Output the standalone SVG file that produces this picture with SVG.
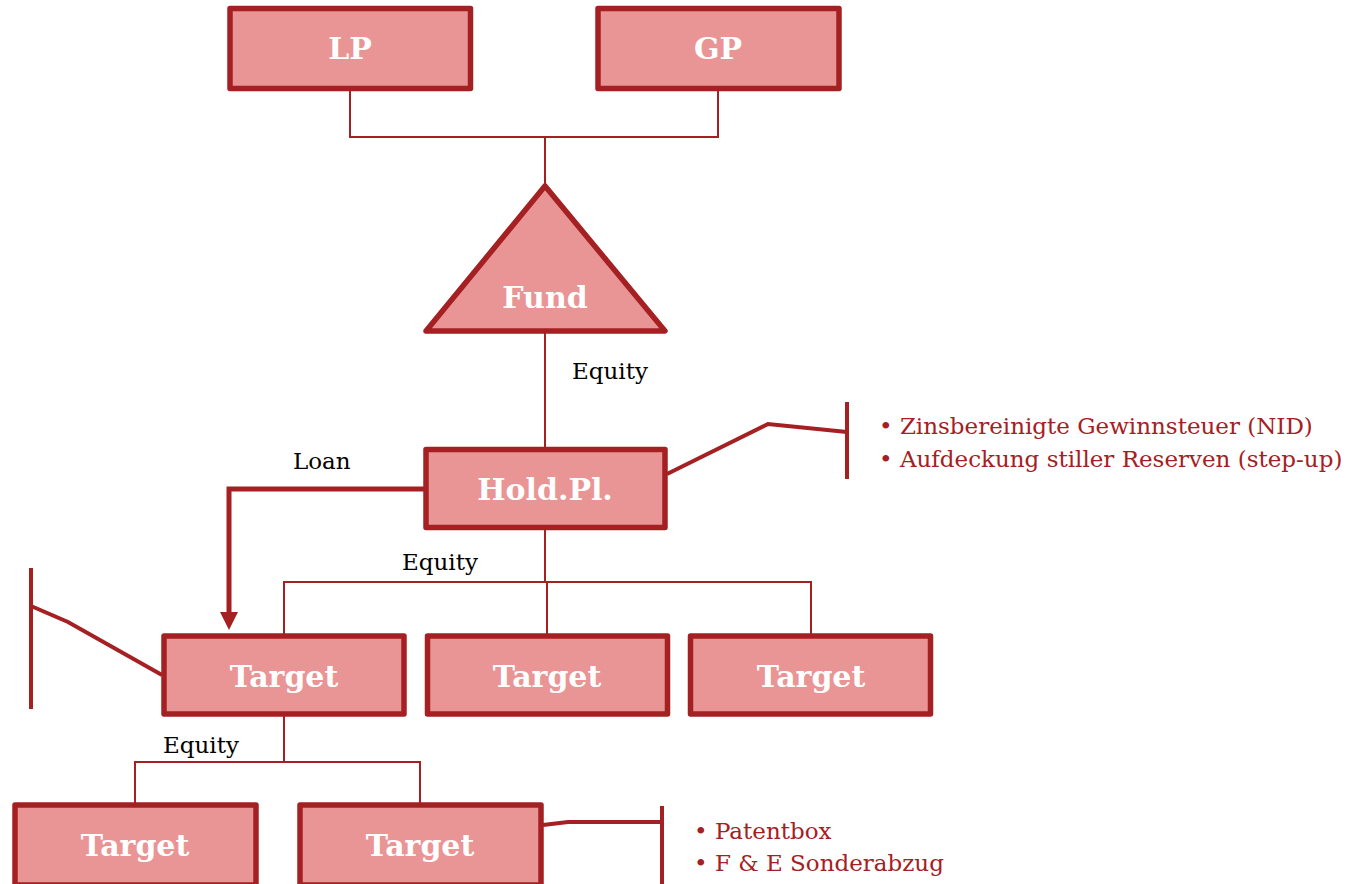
<svg xmlns="http://www.w3.org/2000/svg" width="1351" height="884" viewBox="0 0 1351 884">
  <style>
    .box { fill: #e99595; stroke: #a52022; stroke-width: 5.5; stroke-linejoin: round; }
    .lbl { font-family: "DejaVu Serif", "Liberation Serif", serif; font-weight: bold; font-size: 30px; fill: #ffffff; text-anchor: middle; }
    .wire { fill: none; stroke: #a52022; stroke-width: 2; }
    .thick { fill: none; stroke: #a52022; stroke-width: 5; }
    .call { fill: none; stroke: #a52022; stroke-width: 4; }
    .note { font-family: "DejaVu Serif", "Liberation Serif", serif; font-size: 23px; fill: #000000; }
    .bul { font-family: "DejaVu Serif", "Liberation Serif", serif; font-size: 23px; fill: #a52022; }
  </style>
  <defs>
    <marker id="arrow" markerWidth="18" markerHeight="18" refX="0" refY="9" orient="auto" markerUnits="userSpaceOnUse">
      <path d="M0,0 L18,9 L0,18 Z" fill="#a52022"/>
    </marker>
  </defs>

  <rect width="1351" height="884" fill="#ffffff"/>

  <!-- connectors -->
  <g id="connectors">
    <path class="wire" d="M350,88 V137 H718 V88"/>
    <path class="wire" d="M545,137 V186"/>
    <path class="wire" d="M545,332 V449"/>
    <path class="wire" d="M545,528 V582"/>
    <path class="wire" d="M284,634 V582 H811 V634"/>
    <path class="wire" d="M547,582 V634"/>
    <path class="wire" d="M284,716 V762"/>
    <path class="wire" d="M135,803 V762 H420 V803"/>
    <path class="thick" d="M426,489 H229 V612" marker-end="url(#arrow)"/>
    <text class="note" x="572" y="379">Equity</text>
    <text class="note" x="293" y="469">Loan</text>
    <text class="note" x="402" y="570">Equity</text>
    <text class="note" x="163" y="753">Equity</text>
  </g>

  <!-- LP -->
  <g id="lp">
    <rect class="box" x="230" y="8.5" width="240.5" height="80"/>
    <text class="lbl" x="350" y="59">LP</text>
  </g>

  <!-- GP -->
  <g id="gp">
    <rect class="box" x="598" y="8.5" width="241" height="80"/>
    <text class="lbl" x="718" y="59">GP</text>
  </g>

  <!-- Fund -->
  <g id="fund">
    <polygon class="box" points="545,186 665,331 426,331"/>
    <text class="lbl" x="545" y="308">Fund</text>
  </g>

  <!-- Holding -->
  <g id="holding">
    <rect class="box" x="426" y="449.5" width="239" height="78"/>
    <text class="lbl" x="545" y="500">Hold.Pl.</text>
  </g>

  <!-- Holding callout -->
  <g id="holding-note">
    <path class="call" d="M667,474 L768,424 L847,432"/>
    <path class="call" d="M847,402 V479"/>
    <text class="bul" x="879" y="434">• Zinsbereinigte Gewinnsteuer (NID)</text>
    <text class="bul" x="879" y="467">• Aufdeckung stiller Reserven (step-up)</text>
  </g>

  <!-- Targets, first row -->
  <g id="target-1">
    <rect class="box" x="164" y="636" width="240" height="78"/>
    <text class="lbl" x="284" y="687">Target</text>
  </g>
  <g id="target-2">
    <rect class="box" x="427.5" y="636" width="240" height="78"/>
    <text class="lbl" x="547" y="687">Target</text>
  </g>
  <g id="target-3">
    <rect class="box" x="690.5" y="636" width="240" height="78"/>
    <text class="lbl" x="811" y="687">Target</text>
  </g>

  <!-- Target 1 callout -->
  <g id="target-1-note">
    <path class="call" d="M162,675 L68,622 L31,606"/>
    <path class="call" d="M31,568 V709"/>
  </g>

  <!-- Targets, second row -->
  <g id="target-4">
    <rect class="box" x="15" y="805" width="241" height="80"/>
    <text class="lbl" x="135" y="856">Target</text>
  </g>
  <g id="target-5">
    <rect class="box" x="300" y="805" width="241" height="80"/>
    <text class="lbl" x="420" y="856">Target</text>
  </g>

  <!-- Target 5 callout -->
  <g id="target-5-note">
    <path class="call" d="M543,825 L568,822 L662,822"/>
    <path class="call" d="M662,806 V884"/>
    <text class="bul" x="694" y="839">• Patentbox</text>
    <text class="bul" x="694" y="871">• F &amp; E Sonderabzug</text>
  </g>
</svg>
